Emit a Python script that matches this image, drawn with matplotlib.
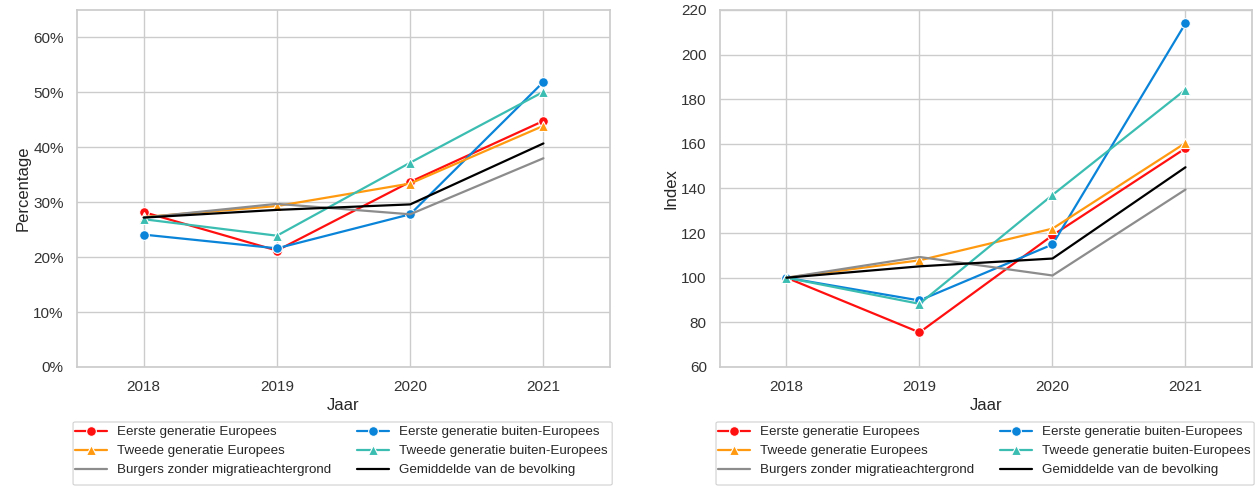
import matplotlib
matplotlib.use('Agg')
import matplotlib.pyplot as plt
import seaborn as sns
from matplotlib.patches import FancyBboxPatch
from matplotlib.ticker import PercentFormatter

years = [2018, 2019, 2020, 2021]
labels = ['Eerste generatie Europees', 'Eerste generatie buiten-Europees',
          'Tweede generatie Europees', 'Tweede generatie buiten-Europees',
          'Burgers zonder migratieachtergrond', 'Gemiddelde van de bevolking']

# percentage per group
pct_eerste_eu = [28.2, 21.2, 33.7, 44.8]
pct_eerste_neu = [24.1, 21.6, 27.8, 51.9]
pct_tweede_eu = [27.3, 29.3, 33.4, 43.9]
pct_tweede_neu = [26.9, 23.9, 37.2, 50.1]
pct_zonder = [27.2, 29.7, 27.8, 38.0]
pct_gemiddeld = [27.2, 28.6, 29.6, 40.7]

# index 2018 = 100
idx_eerste_eu = [100, 75.5, 119, 158]
idx_eerste_neu = [100, 89.8, 114.9, 214]
idx_tweede_eu = [100, 107.8, 122, 160.4]
idx_tweede_neu = [100, 88.3, 137.1, 184.3]
idx_zonder = [100, 109.3, 101, 139.5]
idx_gemiddeld = [100, 105.1, 108.6, 149.5]

colors = ['#ff1010', '#0a84d8', '#ff9a10', '#3bbdb2', '#8c8c8c', '#000000']
markers = ['o', 'o', '^', '^', None, None]

sns.set_theme(style='whitegrid')
plt.rcParams['font.family'] = ['Liberation Sans', 'DejaVu Sans']

fig = plt.figure(figsize=(12.55, 4.86), dpi=100)
ax1 = fig.add_axes([0.0614, 0.2449, 0.4247, 0.7346])
ax2 = fig.add_axes([0.5737, 0.2449, 0.4239, 0.7346])

pct = [pct_eerste_eu, pct_eerste_neu, pct_tweede_eu, pct_tweede_neu, pct_zonder, pct_gemiddeld]
idx = [idx_eerste_eu, idx_eerste_neu, idx_tweede_eu, idx_tweede_neu, idx_zonder, idx_gemiddeld]


def draw(ax, series):
    for vals, lab, c, m in zip(series, labels, colors, markers):
        ax.plot(years, vals, color=c, marker=m, markersize=7, markeredgecolor='white',
                markeredgewidth=0.8, linewidth=1.6, label=lab)
    ax.set_xlim(2017.5, 2021.5)
    ax.set_xticks(years)
    ax.set_xlabel('Jaar', fontsize=12, labelpad=3, color='#262626')
    ax.tick_params(labelsize=11, colors='#333333')
    for s in ax.spines.values():
        s.set_color('#cccccc')
    handles, labs = ax.get_legend_handles_labels()
    order = [0, 2, 4, 1, 3, 5]
    ax.legend([handles[i] for i in order], [labs[i] for i in order], ncol=2,
              loc='upper left', bbox_to_anchor=(-0.004, -0.165),
              fontsize=9.6, frameon=False, borderaxespad=0, borderpad=0,
              handlelength=2.4, handletextpad=0.75, columnspacing=1.95,
              labelspacing=0.5)
    # legend frame, wider than its content as in the original
    box = FancyBboxPatch((-0.0075, -0.3306), 1.0115, 0.1765, transform=ax.transAxes,
                         boxstyle='round,pad=0,rounding_size=0.004', facecolor='none',
                         edgecolor='#d0d0d0', linewidth=0.8, clip_on=False)
    ax.add_patch(box)


draw(ax1, pct)
ax1.set_ylim(0, 65)
ax1.set_yticks(range(0, 61, 10))
ax1.yaxis.set_major_formatter(PercentFormatter(decimals=0))
ax1.set_ylabel('Percentage', fontsize=12, labelpad=2, color='#262626')

draw(ax2, idx)
ax2.set_ylim(60, 220)
ax2.set_yticks(range(60, 221, 20))
ax2.set_ylabel('Index', fontsize=12, labelpad=2, color='#262626')

fig.savefig('out.png', dpi=100)
